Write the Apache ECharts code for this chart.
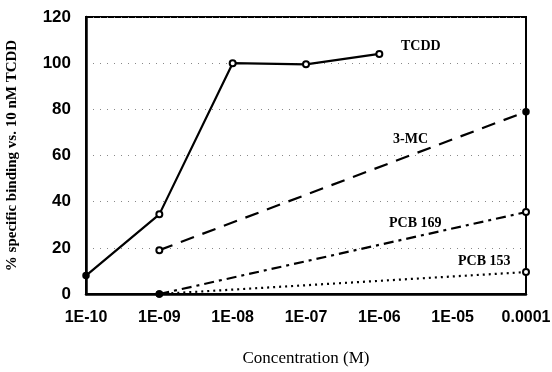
<!DOCTYPE html>
<html>
<head>
<meta charset="utf-8">
<script src="https://cdn.jsdelivr.net/npm/echarts@6/dist/echarts.min.js"></script>
<style>
  html, body { margin: 0; padding: 0; background: #fff; }
  #chart { width: 552px; height: 372px; }
</style>
</head>
<body>
<div id="chart"></div>
<script>
// concentrations (M), evenly spaced on a log axis
const concentrations = ["1E-10", "1E-09", "1E-08", "1E-07", "1E-06", "1E-05", "0.0001"];
const tcdd = [8, 34.5, 100, 99.5, 104, null, null];
const mc3 = [null, 19, null, null, null, null, 79];
const pcb169 = [null, 0, null, null, null, null, 35.5];
const pcb153 = [null, 0, null, null, null, null, 9.5];

const serif = "'Liberation Serif', 'DejaVu Serif', serif";
const sans = "'Liberation Sans', Arial, sans-serif";

const chart = echarts.init(document.getElementById("chart"));

// filledAt: category indexes drawn with a solid dot instead of an open circle
const baseLine = (name, data, lineType, filledAt) => ({
  name: name,
  type: "line",
  data: data,
  connectNulls: true,
  symbol: (val, params) => (filledAt.includes(params.dataIndex) ? "circle" : "emptyCircle"),
  symbolSize: 6,
  showAllSymbol: true,
  lineStyle: { color: "#000", width: 2.2, type: lineType },
  itemStyle: { color: "#000", borderColor: "#000", borderWidth: 1.5 },
  animation: false,
  z: 3,
});

const option = {
  backgroundColor: "#fff",
  grid: {
    left: 86, right: 26, top: 17, bottom: 78,
    outerBoundsMode: "none",
    show: true, borderColor: "#000", borderWidth: 2,
  },
  xAxis: {
    type: "category",
    data: concentrations,
    boundaryGap: false,
    name: "Concentration (M)",
    nameLocation: "middle",
    nameGap: 56,
    nameTextStyle: { fontFamily: serif, fontSize: 17, color: "#000" },
    axisLine: { lineStyle: { color: "#000", width: 2.5 } },
    axisTick: { show: false },
    axisLabel: { fontFamily: sans, fontSize: 16, fontWeight: "bold", color: "#000", margin: 16, interval: 0 },
    splitLine: { show: false },
  },
  yAxis: {
    type: "value",
    min: 0, max: 120, interval: 20,
    name: "% specific binding vs. 10 nM TCDD",
    nameLocation: "middle",
    nameGap: 66,
    nameTextStyle: { fontFamily: serif, fontSize: 15, fontWeight: "bold", color: "#000" },
    axisLine: { show: true, lineStyle: { color: "#000", width: 2.5 } },
    axisTick: { show: false },
    axisLabel: { fontFamily: sans, fontSize: 17, fontWeight: "bold", color: "#000", margin: 15 },
    splitLine: { lineStyle: { color: "#888", width: 1, type: [1, 6] } },
  },
  graphic: [
    { type: "text", left: 401, top: 39, style: { text: "TCDD", font: "bold 14px " + serif, fill: "#000" } },
    { type: "text", left: 393, top: 132, style: { text: "3-MC", font: "bold 14px " + serif, fill: "#000" } },
    { type: "text", left: 389, top: 216, style: { text: "PCB 169", font: "bold 14px " + serif, fill: "#000" } },
    { type: "text", left: 458, top: 254, style: { text: "PCB 153", font: "bold 14px " + serif, fill: "#000" } },
  ],
  series: [
    baseLine("TCDD", tcdd, "solid", [0]),
    baseLine("3-MC", mc3, [14, 9], [6]),
    baseLine("PCB 169", pcb169, [10, 5, 3, 5], [1]),
    baseLine("PCB 153", pcb153, [2, 4], [1]),
  ],
};

chart.setOption(option);
</script>
</body>
</html>
